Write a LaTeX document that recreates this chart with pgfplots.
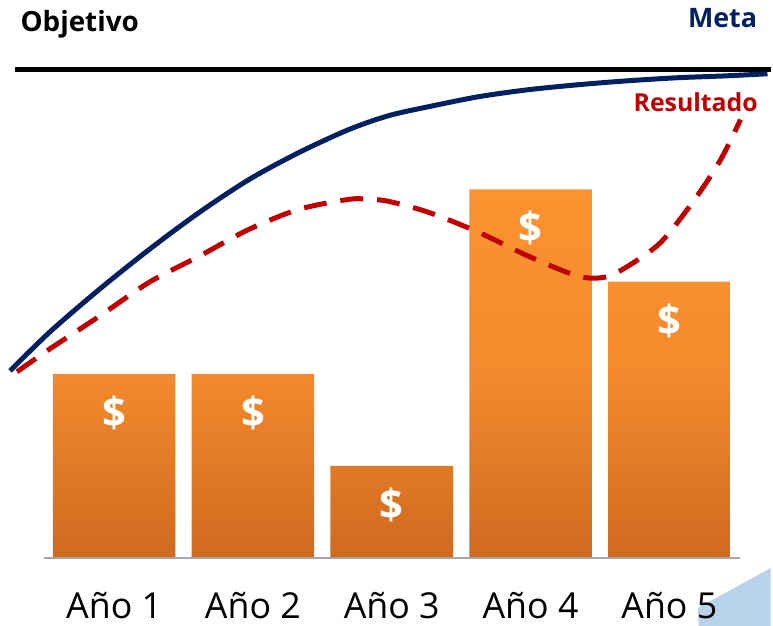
\documentclass[border=0pt]{standalone}
\usepackage{fontspec}
\setmainfont{Open Sans}
\usepackage{pgfplots}
\pgfplotsset{compat=1.18}
\definecolor{navy}{RGB}{0,32,96}
\definecolor{rojo}{RGB}{192,0,0}
\definecolor{orTop}{RGB}{253,146,48}
\definecolor{orBot}{RGB}{206,106,32}
\definecolor{azul}{RGB}{184,210,236}
\begin{document}
\begin{tikzpicture}
\begin{axis}[
  set layers=standard,
  scale only axis, width=773bp, height=628bp,
  xmin=-0.8223, xmax=4.7289, ymin=-0.7351, ymax=6.0541,
  axis line style={draw=none}, tick style={draw=none},
  ytick=\empty,
  xtick={0,1,2,3,4},
  xticklabels={Año 1,Año 2,Año 3,Año 4,Año 5},
  xticklabel style={anchor=base, yshift=8bp, font=\fontsize{36}{36}\selectfont},
  clip=false,
]
% light blue decoration
\addplot[draw=none, fill=azul, on layer=axis background] coordinates {(4.212,-0.7351)(4.205,-0.541)(4.7289,-0.108)(4.7289,-0.7351)} -- cycle;
% bars
\addplot[ybar, bar width=0.883, draw=none, top color=orTop, bottom color=orBot, middle color=orTop!80!orBot,
  nodes near coords={\$},
  every node near coord/.append style={anchor=center, yshift=-39bp, text=white, font=\fontsize{42}{42}\selectfont\bfseries}]
  coordinates {(0,2)(1,2)(2,1)(3,4)(4,3)};
% baseline
\addplot[gray!70, line width=1.5bp] coordinates {(-0.506,0)(4.506,0)};
% Objetivo line
\addplot[black, line width=5bp] coordinates {(-0.715,5.303)(4.7289,5.303)};
% Meta curve
\addplot[navy, line width=5bp, smooth] coordinates {
(-0.750,2.032)(-0.463,2.454)(-0.104,2.919)(0.255,3.351)(0.614,3.751)(0.973,4.108)
(1.332,4.400)(1.691,4.649)(1.979,4.800)(2.266,4.897)(2.625,5.005)(2.984,5.081)
(3.343,5.135)(3.702,5.178)(4.061,5.211)(4.420,5.232)(4.707,5.254)};
% Resultado curve
\addplot[rojo, line width=5bp, smooth, dash pattern=on 23bp off 14bp] coordinates {
(-0.700,2.022)(-0.463,2.270)(-0.104,2.627)(0.255,2.995)(0.614,3.276)(0.973,3.568)
(1.332,3.784)(1.691,3.892)(1.835,3.892)(1.979,3.870)(2.266,3.751)(2.625,3.535)
(2.984,3.276)(3.343,3.059)(3.537,3.049)(3.702,3.168)(3.939,3.427)(4.183,3.892)
(4.370,4.324)(4.513,4.757)};
% labels
\node[anchor=base, font=\fontsize{28}{28}\selectfont\bfseries] at (axis cs:-0.248,5.708) {Objetivo};
\node[anchor=base east, text=navy, font=\fontsize{27}{27}\selectfont\bfseries] at (axis cs:4.657,5.751) {Meta};
\node[anchor=base, text=rojo, font=\fontsize{25}{25}\selectfont\bfseries] at (axis cs:4.19,4.843) {Resultado};
\end{axis}
\end{tikzpicture}
\end{document}
